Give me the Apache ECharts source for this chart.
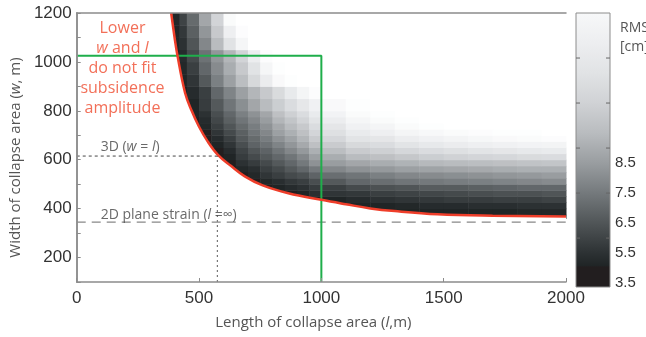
<!DOCTYPE html>
<html>
<head>
<meta charset="utf-8">
<script src="https://cdn.jsdelivr.net/npm/echarts@6.0.0/dist/echarts.min.js"></script>
<style>
  html, body { margin: 0; padding: 0; background: #fff; }
  #chart { width: 646px; height: 337px; }
</style>
</head>
<body>
<div id="chart"></div>
<script>
const _ = null;

// cell edges of the RMS grid (m)
const lEdges = [390, 420, 450, 500, 550, 600, 650, 700, 750, 800, 850, 900, 950, 1000, 1100, 1200, 1300, 1400, 1500, 1600, 1700, 1800, 1900, 2000];
const wEdges = [360, 375, 400, 425, 450, 475, 500, 525, 550, 575, 600, 625, 650, 675, 700, 725, 750, 775, 800, 850, 900, 950, 1000, 1050, 1100, 1150, 1200];

// RMS misfit (cm), one row per w band, bottom to top; null = no fit
const rmsRows = [
  [_, _, _, _, _, _, _, _, _, _, _, _, _, _, _, _, _, 5.0, 5.0, 5.0, 5.0, 5.0, 5.1],
  [_, _, _, _, _, _, _, _, _, _, _, _, _, _, 5.0, 5.0, 5.1, 5.1, 5.1, 5.1, 5.1, 5.2, 5.2],
  [_, _, _, _, _, _, _, _, _, _, _, _, _, 5.0, 5.1, 5.1, 5.2, 5.3, 5.3, 5.4, 5.4, 5.5, 5.5],
  [_, _, _, _, _, _, _, _, _, _, _, 5.0, 5.0, 5.1, 5.3, 5.5, 5.6, 5.7, 5.8, 5.8, 5.9, 5.9, 6.0],
  [_, _, _, _, _, _, _, _, _, 5.0, 5.0, 5.1, 5.4, 5.6, 5.7, 5.9, 6.0, 6.1, 6.2, 6.3, 6.4, 6.4, 6.5],
  [_, _, _, _, _, _, _, _, 5.0, 5.1, 5.3, 5.5, 5.8, 5.9, 6.2, 6.4, 6.5, 6.7, 6.7, 6.8, 6.9, 7.0, 7.0],
  [_, _, _, _, _, _, _, 5.0, 5.2, 5.4, 5.7, 5.9, 6.3, 6.6, 7.0, 7.2, 7.4, 7.5, 7.6, 7.7, 7.8, 7.9, 8.0],
  [_, _, _, _, _, _, 5.0, 5.2, 5.6, 5.9, 6.2, 6.4, 6.9, 7.2, 7.4, 7.7, 7.9, 8.0, 8.1, 8.2, 8.3, 8.4, 8.5],
  [_, _, _, _, _, 5.0, 5.2, 5.4, 5.9, 6.2, 6.6, 7.0, 7.5, 7.9, 8.2, 8.4, 8.6, 8.7, 8.8, 8.9, 9.0, 9.1, 9.1],
  [_, _, _, _, 5.0, 5.0, 5.5, 5.8, 6.2, 6.6, 7.0, 7.5, 8.2, 8.5, 8.8, 9.0, 9.2, 9.4, 9.5, 9.6, 9.7, 9.8, 9.9],
  [_, _, _, _, 5.0, 5.1, 5.8, 6.2, 6.6, 7.0, 7.4, 7.9, 8.6, 9.0, 9.5, 9.7, 10.0, 10.3, 10.5, 10.7, 10.8, 11.0, 11.1],
  [_, _, _, _, 5.0, 5.3, 6.0, 6.5, 6.9, 7.4, 7.9, 8.4, 9.1, 9.6, 10.2, 10.4, 10.8, 11.1, 11.3, 11.6, 11.8, 12.0, 12.2],
  [_, _, _, 5.0, 5.1, 5.6, 6.3, 6.9, 7.3, 7.8, 8.3, 8.9, 9.7, 10.2, 10.9, 11.1, 11.6, 12.0, 12.3, 12.6, 12.8, 13.0, 13.1],
  [_, _, _, 5.0, 5.3, 5.9, 6.6, 7.1, 7.6, 8.2, 8.7, 9.3, 10.2, 10.8, 11.6, 11.8, 12.4, 12.8, 13.1, 13.4, 13.6, 13.7, 13.8],
  [_, _, _, 5.0, 5.6, 6.2, 6.8, 7.4, 7.9, 8.6, 9.1, 9.7, 10.7, 11.3, 12.2, 12.6, 13.2, 13.5, 13.7, 13.8, 13.9, 13.9, 14],
  [_, _, 5.0, 5.2, 5.9, 6.5, 7.1, 7.6, 8.2, 8.9, 9.5, 10.1, 11.1, 11.8, 12.8, 13.2, 13.7, 13.9, 14, 14, 14, 14, 14],
  [_, _, 5.0, 5.3, 6.1, 6.8, 7.4, 7.9, 8.5, 9.3, 9.9, 10.6, 11.6, 12.4, 13.3, 13.7, 13.9, 14, 14, 14, 14, 14, 14],
  [_, _, 5.1, 5.5, 6.3, 7.0, 7.7, 8.2, 8.8, 9.7, 10.4, 11.1, 12.2, 13.0, 13.7, 13.9, 14, 14, 14, 14, 14, 14, 14],
  [_, _, 5.1, 5.8, 6.6, 7.4, 8.1, 8.8, 9.5, 10.3, 11.1, 11.9, 12.8, 13.6, 13.9, 14, 14, 14, 14, 14, 14, 14, 14],
  [_, 5.0, 5.3, 5.9, 7.0, 7.8, 8.6, 9.3, 10.1, 11.0, 12.1, 13.2, 13.8, 14, 14, 14, 14, 14, 14, 14, 14, 14, 14],
  [_, 5.1, 5.6, 6.6, 7.7, 8.6, 9.6, 10.9, 12.3, 13.6, 13.9, 14, 14, 14, 14, 14, 14, 14, 14, 14, 14, 14, 14],
  [5.0, 5.2, 5.9, 7.0, 8.0, 9.0, 10.1, 11.5, 13.3, 13.9, 14, 14, 14, 14, 14, 14, 14, 14, 14, 14, 14, 14, 14],
  [5.0, 5.3, 6.2, 7.3, 8.3, 9.3, 10.6, 12.4, 13.8, 14, 14, 14, 14, 14, 14, 14, 14, 14, 14, 14, 14, 14, 14],
  [5.1, 5.5, 6.5, 7.9, 9.5, 11.5, 13.3, 14, 14, 14, 14, 14, 14, 14, 14, 14, 14, 14, 14, 14, 14, 14, 14],
  [5.1, 5.7, 6.8, 8.3, 10.1, 12.6, 13.8, 14, 14, 14, 14, 14, 14, 14, 14, 14, 14, 14, 14, 14, 14, 14, 14],
  [5.2, 6.0, 7.1, 8.8, 10.6, 13.7, 14, 14, 14, 14, 14, 14, 14, 14, 14, 14, 14, 14, 14, 14, 14, 14, 14]
];

// red boundary: lower w and l do not fit (l, w)
const fitLimit = [[386, 1200], [400, 1100], [411, 1030], [443, 873], [470, 800], [499, 737], [535, 675], [577, 620],
  [630, 575], [687, 532], [760, 495], [865, 463], [1000, 436], [1100, 418], [1200, 401], [1300, 390],
  [1475, 377], [1700, 371], [2000, 368]];
const greenBox = [[0, 1025], [1000, 1025], [1000, 100]];
const line3Dh = [[0, 615], [575, 615]];
const line3Dv = [[575, 100], [575, 615]];
const line2D = [[0, 345], [2000, 345]];

// colour scale
const cmapRms = [4.37, 5.05, 5.1, 5.5, 6.5, 7.5, 8.5, 9.5, 10.5, 11.5, 12.5, 13.5, 14];
const cmapColors = ['#221e1f', '#221e1f', '#202526', '#2c3133', '#505557', '#74797c', '#999da0', '#b9bcbf',
  '#d0d2d5', '#e1e3e5', '#edeef0', '#f7f8f9', '#ffffff'];
const cbMin = 4.37, cbMax = 13.5;
const cbLabelPos = [4.5, 5.5, 6.5, 7.5, 8.5];
const cbLabelText = ['3.5', '5.5', '6.5', '7.5', '8.5'];
const cbTickPos = [6, 7.5, 9, 10.5, 12];

function hexToRgb(h) {
  return [parseInt(h.slice(1, 3), 16), parseInt(h.slice(3, 5), 16), parseInt(h.slice(5, 7), 16)];
}
function rmsColor(v) {
  if (v <= cmapRms[0]) return cmapColors[0];
  for (let i = 1; i < cmapRms.length; i++) {
    if (v <= cmapRms[i]) {
      const t = (v - cmapRms[i - 1]) / (cmapRms[i] - cmapRms[i - 1]);
      const a = hexToRgb(cmapColors[i - 1]), b = hexToRgb(cmapColors[i]);
      return 'rgb(' + a.map((c, k) => Math.round(c + (b[k] - c) * t)).join(',') + ')';
    }
  }
  return cmapColors[cmapColors.length - 1];
}

const cells = [];
rmsRows.forEach((row, j) => row.forEach((v, i) => {
  if (v !== null) cells.push([lEdges[i], lEdges[i + 1], wEdges[j], wEdges[j + 1], v]);
}));

const sans = 'Liberation Sans, Arial, sans-serif';
const soft = 'Open Sans, sans-serif';
const frame = '#8c8c8c';

const chart = echarts.init(document.getElementById('chart'));

const option = {
  animation: false,
  title: {
    text: 'RMS\n[cm]', left: 615, top: 14,
    textStyle: { fontFamily: soft, fontSize: 14, fontWeight: 'normal', color: '#555', lineHeight: 19 }
  },
  grid: [
    { left: 74, top: 13, width: 492, height: 269 },
    { left: 576, top: 13, width: 34, height: 274 }
  ],
  xAxis: [
    {
      type: 'value', gridIndex: 0, min: 0, max: 2000, interval: 500, z: 10,
      name: '{n|Length of collapse area (}{i|l}{n|,m)}', nameLocation: 'middle', nameGap: 33,
      nameTextStyle: {
        padding: [0, 16, 0, 0],
        rich: {
          n: { fontFamily: soft, fontSize: 15, color: '#555' },
          i: { fontFamily: soft, fontSize: 15, color: '#555', fontStyle: 'italic' }
        }
      },
      axisLine: { show: true, lineStyle: { color: frame, width: 1.5 } },
      axisTick: { inside: true, length: 4, lineStyle: { color: frame } },
      splitLine: { show: false },
      axisLabel: { fontFamily: sans, fontSize: 17, color: '#333', margin: 8, formatter: v => String(v) }
    },
    {
      type: 'value', gridIndex: 0, position: 'top', min: 0, max: 2000, z: 10,
      axisLine: { show: true, lineStyle: { color: frame, width: 1.5 } },
      axisTick: { show: false }, axisLabel: { show: false }, splitLine: { show: false }
    },
    { type: 'value', gridIndex: 1, min: 0, max: 1, show: false }
  ],
  yAxis: [
    {
      type: 'value', gridIndex: 0, min: 100, max: 1200, interval: 100, z: 10,
      name: '{n|Width of collapse area (}{i|w}{n|, m)}', nameLocation: 'middle', nameGap: 50,
      nameTextStyle: {
        padding: [0, 20, 0, 0],
        rich: {
          n: { fontFamily: soft, fontSize: 15, color: '#555' },
          i: { fontFamily: soft, fontSize: 15, color: '#555', fontStyle: 'italic' }
        }
      },
      axisLine: { show: true, lineStyle: { color: frame, width: 1.5 } },
      axisTick: { inside: true, length: 4, lineStyle: { color: frame } },
      splitLine: { show: false },
      axisLabel: {
        fontFamily: sans, fontSize: 17, color: '#333', margin: 5,
        formatter: v => (v % 200 === 0 ? String(v) : '')
      }
    },
    {
      type: 'value', gridIndex: 0, position: 'right', min: 100, max: 1200, z: 10,
      axisLine: { show: true, lineStyle: { color: frame, width: 1.5 } },
      axisTick: { show: false }, axisLabel: { show: false }, splitLine: { show: false }
    },
    {
      type: 'value', gridIndex: 1, position: 'right', min: cbMin, max: cbMax, z: 10,
      axisLine: { show: false }, splitLine: { show: false }, axisTick: { show: false },
      axisLabel: {
        customValues: cbLabelPos, fontFamily: sans, fontSize: 15, color: '#333', margin: 5,
        formatter: v => cbLabelText[cbLabelPos.indexOf(v)]
      }
    }
  ],
  series: [
    {
      type: 'custom', xAxisIndex: 0, yAxisIndex: 0, z: 1, silent: true, clip: true,
      data: cells, encode: { x: [0, 1], y: [2, 3] },
      renderItem: (params, api) => {
        const p0 = api.coord([api.value(0), api.value(3)]);
        const p1 = api.coord([api.value(1), api.value(2)]);
        return {
          type: 'rect',
          shape: { x: p0[0], y: p0[1], width: p1[0] - p0[0] + 0.5, height: p1[1] - p0[1] + 0.5 },
          style: { fill: rmsColor(api.value(4)) }
        };
      }
    },
    {
      // blank the no-fit side of the limit
      type: 'line', xAxisIndex: 0, yAxisIndex: 0, z: 2, data: fitLimit, symbol: 'none', silent: true,
      smooth: 0.4, lineStyle: { width: 0 }, areaStyle: { color: '#ffffff', opacity: 1 }
    },
    {
      type: 'line', xAxisIndex: 0, yAxisIndex: 0, z: 3, data: line3Dh, symbol: 'none', silent: true,
      lineStyle: { color: '#666', width: 1.2, type: [3, 3] }
    },
    {
      type: 'line', xAxisIndex: 0, yAxisIndex: 0, z: 3, data: line3Dv, symbol: 'none', silent: true,
      lineStyle: { color: '#777', width: 1.2, type: [2, 3] }
    },
    {
      type: 'line', xAxisIndex: 0, yAxisIndex: 0, z: 3, data: line2D, symbol: 'none', silent: true,
      lineStyle: { color: '#888', width: 1.3, type: [9, 6] }
    },
    {
      type: 'line', xAxisIndex: 0, yAxisIndex: 0, z: 4, data: greenBox, symbol: 'none', silent: true,
      lineStyle: { color: '#1fae4b', width: 2 }
    },
    {
      type: 'line', xAxisIndex: 0, yAxisIndex: 0, z: 5, data: fitLimit, symbol: 'none', silent: true,
      smooth: 0.4, lineStyle: { color: '#ef3e2a', width: 2.5 }
    },
    {
      type: 'scatter', xAxisIndex: 0, yAxisIndex: 0, z: 6, symbolSize: 0, silent: true,
      data: [
        {
          value: [187, 975],
          label: {
            show: true, position: 'inside', align: 'center', lineHeight: 20,
            formatter: '{r|Lower}\n{ri|w}{r| and }{ri|l}\n{r|do not fit}\n{r|subsidence}\n{r|amplitude}',
            rich: {
              r: { fontFamily: soft, fontSize: 16, color: '#ef4b2e', lineHeight: 20 },
              ri: { fontFamily: soft, fontSize: 16, color: '#ef4b2e', fontStyle: 'italic', lineHeight: 20 }
            }
          }
        },
        {
          value: [98, 652],
          label: {
            show: true, position: 'right', distance: 0,
            formatter: '{n|3D (}{i|w}{n| = }{i|l}{n|)}',
            rich: {
              n: { fontFamily: soft, fontSize: 14, color: '#444' },
              i: { fontFamily: soft, fontSize: 14, color: '#444', fontStyle: 'italic' }
            }
          }
        },
        {
          value: [98, 374],
          label: {
            show: true, position: 'right', distance: 0,
            formatter: '{n|2D plane strain (}{i|l}{n| =∞)}',
            rich: {
              n: { fontFamily: soft, fontSize: 14, color: '#444' },
              i: { fontFamily: soft, fontSize: 14, color: '#444', fontStyle: 'italic' }
            }
          }
        }
      ]
    },
    {
      // colour bar with its inner tick marks
      type: 'custom', xAxisIndex: 2, yAxisIndex: 2, z: 1, silent: true,
      data: [[0, 1, cbMin, cbMax]], encode: { x: [0, 1], y: [2, 3] },
      renderItem: (params, api) => {
        const p0 = api.coord([0, cbMax]);
        const p1 = api.coord([1, cbMin]);
        const stops = cmapRms.filter(v => v <= cbMax).map((v, i) => ({
          offset: (v - cbMin) / (cbMax - cbMin), color: cmapColors[i]
        }));
        const children = [{
          type: 'rect',
          shape: { x: p0[0], y: p0[1], width: p1[0] - p0[0], height: p1[1] - p0[1] },
          style: { fill: new echarts.graphic.LinearGradient(0, 1, 0, 0, stops), stroke: frame, lineWidth: 1 }
        }];
        cbTickPos.forEach(t => {
          const y = api.coord([0, t])[1];
          children.push({ type: 'line', shape: { x1: p0[0], y1: y, x2: p0[0] + 4, y2: y }, style: { stroke: '#666', lineWidth: 1 } });
          children.push({ type: 'line', shape: { x1: p1[0] - 4, y1: y, x2: p1[0], y2: y }, style: { stroke: '#666', lineWidth: 1 } });
        });
        return { type: 'group', children: children };
      }
    }
  ]
};

chart.setOption(option);
</script>
</body>
</html>
